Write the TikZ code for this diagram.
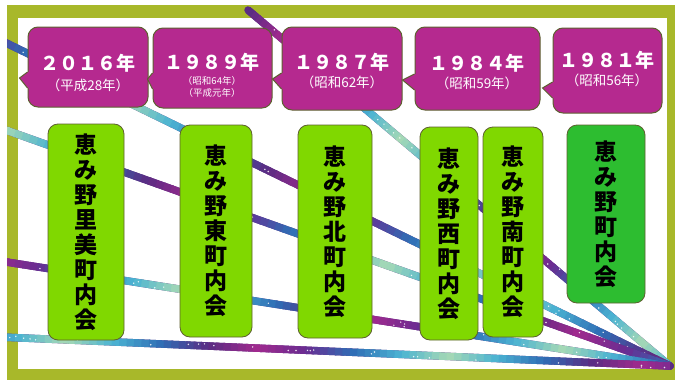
\documentclass[tikz,border=0pt]{standalone}
\usepackage{fontspec}
\newfontfamily\jpfont{Noto Sans CJK JP}
\usetikzlibrary{calc}

\definecolor{frameolive}{HTML}{A8B82A}
\definecolor{calloutpurple}{HTML}{B5298F}
\definecolor{boxlime}{HTML}{80D800}
\definecolor{boxgreen}{HTML}{2DBD30}
\definecolor{edgeolive}{HTML}{5E6030}
% galaxy colours of the streaks
\definecolor{gx0}{HTML}{5B2C83}
\definecolor{gx1}{HTML}{A02A8E}
\definecolor{gx2}{HTML}{6A2C91}
\definecolor{gx3}{HTML}{2F6DB5}
\definecolor{gx4}{HTML}{4BB3D2}
\definecolor{gx5}{HTML}{A6D9B5}
\definecolor{gx6}{HTML}{4BB3D2}
\definecolor{gx7}{HTML}{2F6DB5}

\tikzset{
  yearbox/.style={draw=edgeolive, fill=calloutpurple, rounded corners=10pt, line width=1pt, inner sep=0pt},
  yeartext/.style={text=white, inner sep=0pt, font=\jpfont\bfseries\fontsize{19}{19}\selectfont},
  subtext/.style={text=white, inner sep=0pt, align=center, font=\jpfont\fontsize{13.5}{13.5}\selectfont},
  smallsub/.style={subtext, font=\jpfont\fontsize{9.5}{12}\selectfont},
  townbox/.style={draw=edgeolive, fill=boxlime, rounded corners=10pt, line width=0.8pt, inner sep=0pt,
    align=center, font=\jpfont\bfseries\fontsize{23}{25}\selectfont},
}

% pointer on the left side of a year box: node, tip x, tip y
\newcommand\calltab[3]{%
  \fill[calloutpurple] ($(#1.west)+(1.5,#3-6)$) -- ($(#1.west)+(0,#3-6)$) -- ($(#1.west)+(#2,#3)$)
    -- ($(#1.west)+(0,#3+10)$) -- ($(#1.west)+(1.5,#3+10)$) -- cycle;
  \draw[edgeolive, line width=1pt] ($(#1.west)+(0,#3-6)$) -- ($(#1.west)+(#2,#3)$) -- ($(#1.west)+(0,#3+10)$);
}

% one galaxy streak: start, end, colour offset
\newcommand\streak[3]{%
  \draw[gx0, line width=7.5pt, line cap=round] #1 -- #2;
  \foreach \i in {0,...,89}{
    \pgfmathsetmacro\ph{\i*14/90+#3}
    \pgfmathtruncatemacro\ca{mod(floor(\ph),8)}
    \pgfmathtruncatemacro\cb{mod(\ca+1,8)}
    \pgfmathtruncatemacro\pc{100-100*(\ph-floor(\ph))}
    \draw[gx\ca!\pc!gx\cb, line width=7.5pt] ($#1!{\i/90}!#2$) -- ($#1!{min((\i+1.2)/90,1)}!#2$);
  }
  \foreach \k in {1,...,30}{
    \pgfmathsetmacro\t{rnd}
    \fill[white, opacity=0.85] ($#1!\t!#2$) ++(rand*2.5,rand*2.5) circle[radius=0.8pt];
  }
}

\begin{document}
\begin{tikzpicture}[x=1pt, y=-1pt]
\pgfmathsetseed{7}
\useasboundingbox (0,0) rectangle (675,380);

% frame
\fill[frameolive] (7,5) rectangle (675,380);
\fill[white] (18,18) rectangle (667,369);

\begin{scope}
\clip (7,5) rectangle (675,380);
\streak{(248,10)}{(670,366)}{0}
\streak{(0,40)}{(670,366)}{2.5}
\streak{(0,128)}{(670,366)}{5}
\streak{(0,261)}{(670,366)}{1.3}
\streak{(0,337)}{(670,366)}{3.7}
\end{scope}

% year boxes
\node[yearbox, minimum width=120, minimum height=80] (y2016) at (88,67) {};
\calltab{y2016}{-8}{11}
\node[yeartext] (yr2016) at (88,63) {２０１６年};
\node[subtext] (sub2016) at (88,85) {（平成28年）};

\node[yearbox, minimum width=119, minimum height=80] (y1989) at (212.5,68) {};
\calltab{y1989}{-5}{11}
\node[yeartext] (yr1989) at (212,62) {１９８９年};
\node[smallsub] (sub1989) at (212,87) {（昭和64年）\\（平成元年）};

\node[yearbox, minimum width=120, minimum height=83] (y1987) at (342,68.5) {};
\calltab{y1987}{-9}{10.5}
\node[yeartext] (yr1987) at (342,62) {１９８７年};
\node[subtext] (sub1987) at (342,82) {（昭和62年）};

\node[yearbox, minimum width=125, minimum height=83] (y1984) at (477.5,68.5) {};
\calltab{y1984}{-12}{11.5}
\node[yeartext] (yr1984) at (477,63) {１９８４年};
\node[subtext] (sub1984) at (477,83) {（昭和59年）};

\node[yearbox, minimum width=109, minimum height=85] (y1981) at (607.5,70.5) {};
\calltab{y1981}{-10}{17.5}
\node[yeartext] (yr1981) at (607,60) {１９８１年};
\node[subtext] (sub1981) at (607,80) {（昭和56年）};

% town associations
\node[townbox, minimum width=76, minimum height=216] (satomi) at (86,232) {恵\\み\\野\\里\\美\\町\\内\\会};
\node[townbox, minimum width=72, minimum height=212] (higashi) at (216,231) {恵\\み\\野\\東\\町\\内\\会};
\node[townbox, minimum width=74, minimum height=213] (kita) at (335,231.5) {恵\\み\\野\\北\\町\\内\\会};
\node[townbox, minimum width=58, minimum height=213] (nishi) at (449,233.5) {恵\\み\\野\\西\\町\\内\\会};
\node[townbox, minimum width=60, minimum height=210] (minami) at (513,232) {恵\\み\\野\\南\\町\\内\\会};
\node[townbox, fill=boxgreen, minimum width=78, minimum height=178] (megumino) at (606,214) {恵\\み\\野\\町\\内\\会};

\end{tikzpicture}
\end{document}
